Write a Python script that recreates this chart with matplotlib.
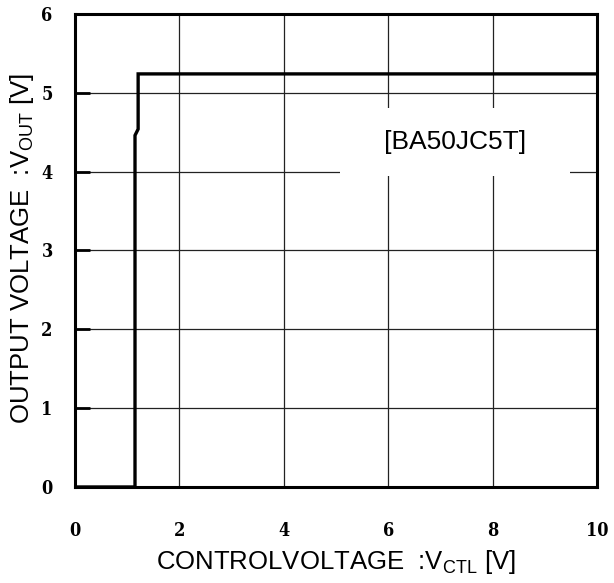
from matplotlib import pyplot as plt

# output voltage vs control voltage
v_ctl = [0.0, 1.15, 1.15, 1.21, 1.21, 10.0]
v_out = [0.0, 0.0, 4.46, 4.54, 5.24, 5.24]

x_ticks = [0, 2, 4, 6, 8, 10]
y_ticks = [0, 1, 2, 3, 4, 5, 6]
part = '[BA50JC5T]'

fig = plt.figure( figsize = ( 6.14, 5.83 ), dpi = 100 )
ax = fig.add_axes( [0.1221, 0.1647, 0.8502, 0.8113] )

ax.set_xlim( 0, 10 )
ax.set_ylim( 0, 6 )
ax.set_xticks( x_ticks )
ax.set_yticks( y_ticks )
ax.grid( True, color = '#222222', linewidth = 0.9 )
ax.set_axisbelow( True )

ax.plot( v_ctl, v_out, color = 'black', linewidth = 2.4, solid_joinstyle = 'miter', zorder = 5 )

for s in ax.spines.values():
    s.set_linewidth( 2.2 )

tick_font = dict( family = 'DejaVu Serif', stretch = 'condensed', size = 13, weight = 'bold' )
ax.set_xticklabels( [str( t ) for t in x_ticks], **tick_font )
ax.set_yticklabels( [str( t ) for t in y_ticks], **tick_font )
ax.tick_params( axis = 'x', direction = 'in', length = 0, pad = 25 )
ax.tick_params( axis = 'y', direction = 'in', length = 11, width = 2, pad = 16 )

lab_font = dict( family = 'Liberation Sans', size = 18.5 )
ax.set_xlabel( r'CONTROLVOLTAGE  :V$_{\mathregular{CTL}}$ [V]', labelpad = 0, **lab_font )
ax.set_ylabel( r'OUTPUT VOLTAGE  :V$_{\mathregular{OUT}}$ [V]', labelpad = 0, **lab_font )
ax.yaxis.set_label_coords( -0.075, 0.505 )
ax.xaxis.set_label_coords( 0.5, -0.13 )

# padding in points (no boxstyle key, so pad stays in points)
ax.text( 7.28, 4.38, '   ' + part + '   ', ha = 'center', va = 'center', family = 'Liberation Sans', size = 19,
         bbox = dict( facecolor = 'white', edgecolor = 'none', pad = 16 ), zorder = 4 )

fig.savefig( 'out.png', dpi = 100 )
